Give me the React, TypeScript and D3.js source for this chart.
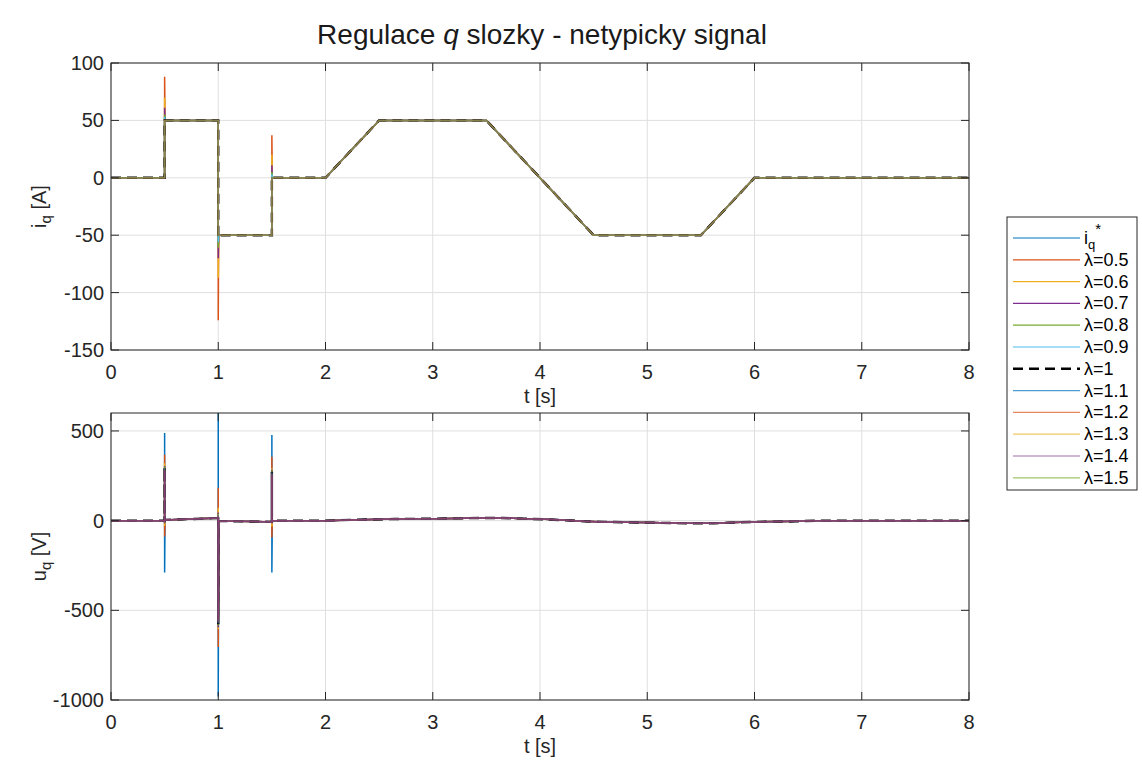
import React from 'react';
import * as d3 from 'd3';

// ---- data ----
const tRef = [0, 0.5, 0.5, 1, 1, 1.5, 1.5, 2, 2.5, 3.5, 4.5, 5.5, 6, 8];
const iqRef = [0, 0, 50, 50, -50, -50, 0, 0, 50, 50, -50, -50, 0, 0];
const lambdas = [0.5, 0.6, 0.7, 0.8, 0.9, 1, 1.1, 1.2, 1.3, 1.4, 1.5];
// i_q peak values at the three steps (t=0.5, 1, 1.5)
const iqPeakA = [88, 70, 61, 55, 53, 51, 50, 50, 50, 50, 50];
const iqPeakB = [-124, -87, -70, -61, -56, -52, -51, -50, -50, -50, -50];
const iqPeakC = [37, 20, 11, 5, 3, 1, 0, 0, 0, 0, 0];

// u_q baseline
const uBaseT = [0, 0.5, 0.5, 1, 1, 1.5, 1.5, 2, 2.23, 2.64, 3.04, 3.44, 3.65, 3.85, 4.05, 4.25, 4.41, 4.6, 5.0, 5.38, 5.62, 5.78, 5.98, 6.39, 6.6, 8];
const uBaseV = [0, 0, 4, 14, -2, -7, 0, 0, 4, 9, 11, 15, 15, 11, 7, 2, -4, -7, -11, -15, -15, -11, -7, -4, 0, 0];
// u_q spike extremes at steps
const uUpA = [489, 367, 320, 305, 300, 300, 292, 288, 284, 280, 276];
const uDnA = [-289, -89, -30, -15, -10, -5, -3, -2, -1, 0, 0];
const uUpB = [640, 183, 72, 45, 38, 33, 30, 28, 26, 24, 22];
const uDnB = [-980, -705, -605, -595, -585, -578, -572, -568, -564, -560, -556];
const uUpC = [478, 356, 294, 285, 280, 272, 268, 264, 260, 256, 252];
const uDnC = [-289, -94, -33, -15, -10, -5, -3, -2, -1, 0, 0];

const xTicks = [0, 1, 2, 3, 4, 5, 6, 7, 8];
const yTopTicks = [-150, -100, -50, 0, 50, 100];
const yBotTicks = [-1000, -500, 0, 500];

const topColors = ['#D95319', '#EDB120', '#7E2F8E', '#77AC30', '#4DBEEE', '#000000', '#0072BD', '#D95319', '#EDB120', '#7E2F8E', '#77AC30'];
const botColors = ['#0072BD', '#D95319', '#EDB120', '#7E2F8E', '#77AC30', '#000000', '#4DBEEE', '#A2142F', '#0072BD', '#D95319', '#7E2F8E'];
const refColor = '#0072BD';

// ---- layout ----
const W = 1142, H = 767;
const xL = 111, xR = 969;
const topY0 = 63, topY1 = 350;
const botY0 = 413, botY1 = 700;
const FONT = 'Liberation Sans, Arial, Helvetica, sans-serif';
const AX = '#262626';

const x = d3.scaleLinear().domain([0, 8]).range([xL, xR]);
const yTop = d3.scaleLinear().domain([-150, 100]).range([topY1, topY0]);
const yBot = d3.scaleLinear().domain([-1000, 600]).range([botY1, botY0]);

const EPS = 0.004;

function iqSeries(k: number): [number, number][] {
  const peaks = [iqPeakA[k], iqPeakB[k], iqPeakC[k]];
  const pts: [number, number][] = [];
  let s = 0;
  for (let i = 0; i < tRef.length; i++) {
    if (i > 0 && tRef[i] === tRef[i - 1]) {
      pts.push([tRef[i], peaks[s]]);
      pts.push([tRef[i] + EPS, iqRef[i]]);
      s++;
    } else pts.push([tRef[i], iqRef[i]]);
  }
  return pts;
}

function uSeries(k: number): [number, number][] {
  const ups = [uUpA[k], uUpB[k], uUpC[k]];
  const dns = [uDnA[k], uDnB[k], uDnC[k]];
  const pts: [number, number][] = [];
  let s = 0;
  for (let i = 0; i < uBaseT.length; i++) {
    if (i > 0 && uBaseT[i] === uBaseT[i - 1]) {
      pts.push([uBaseT[i], ups[s]]);
      pts.push([uBaseT[i], dns[s]]);
      pts.push([uBaseT[i] + EPS, uBaseV[i]]);
      s++;
    } else pts.push([uBaseT[i], uBaseV[i]]);
  }
  return pts;
}

function Grid({ y, y0, y1, yTicks, clipId }: any) {
  return (
    <g>
      {xTicks.map(t => (
        <line key={'gx' + t} x1={x(t)} x2={x(t)} y1={y0} y2={y1} stroke="#dfdfdf" strokeWidth={1} />
      ))}
      {yTicks.map((v: number) => (
        <line key={'gy' + v} x1={xL} x2={xR} y1={y(v)} y2={y(v)} stroke="#dfdfdf" strokeWidth={1} />
      ))}
      <clipPath id={clipId}>
        <rect x={xL} y={y0} width={xR - xL} height={y1 - y0} />
      </clipPath>
    </g>
  );
}

function Frame({ y, y0, y1, yTicks, ylabel, xlabelY }: any) {
  const tl = 8;
  return (
    <g>
      <rect x={xL} y={y0} width={xR - xL} height={y1 - y0} fill="none" stroke={AX} strokeWidth={1} />
      {xTicks.map(t => (
        <g key={'tx' + t}>
          <line x1={x(t)} x2={x(t)} y1={y1} y2={y1 - tl} stroke={AX} />
          <line x1={x(t)} x2={x(t)} y1={y0} y2={y0 + tl} stroke={AX} />
          <text x={x(t)} y={y1 + 29} textAnchor="middle" fontSize={20} fill={AX} fontFamily={FONT}>{t}</text>
        </g>
      ))}
      {yTicks.map((v: number) => (
        <g key={'ty' + v}>
          <line x1={xL} x2={xL + tl} y1={y(v)} y2={y(v)} stroke={AX} />
          <line x1={xR} x2={xR - tl} y1={y(v)} y2={y(v)} stroke={AX} />
          <text x={xL - 7} y={y(v) + 7} textAnchor="end" fontSize={20} fill={AX} fontFamily={FONT}>{v}</text>
        </g>
      ))}
      <text x={x(4)} y={xlabelY} textAnchor="middle" fontSize={20} fill={AX} fontFamily={FONT}>t [s]</text>
      {ylabel}
    </g>
  );
}

export default function App() {
  const lineTop = d3.line<[number, number]>().x(d => x(d[0])).y(d => yTop(d[1]));
  const lineBot = d3.line<[number, number]>().x(d => x(d[0])).y(d => yBot(d[1]));
  const refPts: [number, number][] = tRef.map((t, i) => [t, iqRef[i]]);

  const legendItems = [{ label: 'ref', color: refColor, dashed: false, op: 1 }].concat(
    lambdas.map((l, k) => ({ label: String(l), color: topColors[k], dashed: l === 1, op: l > 1 ? 0.7 : 1 }))
  );
  const legX = 1007, legY = 217, legW = 130, legH = 273;
  const legStep = 21.8;
  const legFirst = 238;

  return (
    <div style={{ position: 'absolute', left: 0, top: 0 }}>
      <svg width={W} height={H} style={{ display: 'block', background: '#fff' }}>
        <rect x={0} y={0} width={W} height={H} fill="#fff" />
        <text x={542} y={44} textAnchor="middle" fontSize={28} fill="#1a1a1a" fontFamily={FONT}>
          Regulace <tspan fontStyle="italic">q</tspan> slozky - netypicky signal
        </text>

        {/* top axes */}
        <Grid y={yTop} y0={topY0} y1={topY1} yTicks={yTopTicks} clipId="clipTop" />
        <g clipPath="url(#clipTop)" fill="none">
          <path d={lineTop(refPts) || ''} stroke={refColor} strokeWidth={1.5} />
          {lambdas.map((l, k) => (
            <path key={'it' + k} d={lineTop(iqSeries(k)) || ''} stroke={topColors[k]}
              strokeWidth={l === 1 ? 2.4 : 1.5} strokeDasharray={l === 1 ? '10,6' : undefined}
              strokeOpacity={l > 1 ? 0.5 : 1} />
          ))}
        </g>
        <Frame y={yTop} y0={topY0} y1={topY1} yTicks={yTopTicks} xlabelY={403}
          ylabel={
            <text transform={`translate(46,${(topY0 + topY1) / 2}) rotate(-90)`} textAnchor="middle" fontSize={20} fill={AX} fontFamily={FONT}>
              i<tspan fontSize={15} dy={5}>q</tspan><tspan dy={-5}> [A]</tspan>
            </text>
          } />

        {/* bottom axes */}
        <Grid y={yBot} y0={botY0} y1={botY1} yTicks={yBotTicks} clipId="clipBot" />
        <g clipPath="url(#clipBot)" fill="none">
          {lambdas.map((l, k) => (
            <path key={'ub' + k} d={lineBot(uSeries(k)) || ''} stroke={botColors[k]}
              strokeWidth={l === 1 ? 2.4 : 1.5} strokeDasharray={l === 1 ? '10,6' : undefined}
              strokeOpacity={l > 1 ? 0.6 : 1} />
          ))}
        </g>
        <Frame y={yBot} y0={botY0} y1={botY1} yTicks={yBotTicks} xlabelY={753}
          ylabel={
            <text transform={`translate(46,${(botY0 + botY1) / 2}) rotate(-90)`} textAnchor="middle" fontSize={20} fill={AX} fontFamily={FONT}>
              u<tspan fontSize={15} dy={5}>q</tspan><tspan dy={-5}> [V]</tspan>
            </text>
          } />

        {/* legend */}
        <rect x={legX} y={legY} width={legW} height={legH} fill="#fff" stroke={AX} strokeWidth={1} />
        {legendItems.map((it, i) => {
          const yy = legFirst + i * legStep;
          return (
            <g key={'lg' + i}>
              <line x1={1013} x2={1080} y1={yy} y2={yy} stroke={it.color}
                strokeWidth={it.dashed ? 2.5 : 1.2} strokeDasharray={it.dashed ? '10,6' : undefined}
                strokeOpacity={it.op} />
              {it.label === 'ref' ? (
                <text x={1084} y={yy + 6} fontSize={18} fill="#000" fontFamily={FONT}>
                  i<tspan fontSize={13} dy={5}>q</tspan><tspan fontSize={15} dy={-15}>*</tspan>
                </text>
              ) : (
                <text x={1084} y={yy + 6} fontSize={18} fill="#000" fontFamily={FONT}>λ={it.label}</text>
              )}
            </g>
          );
        })}
      </svg>
    </div>
  );
}
